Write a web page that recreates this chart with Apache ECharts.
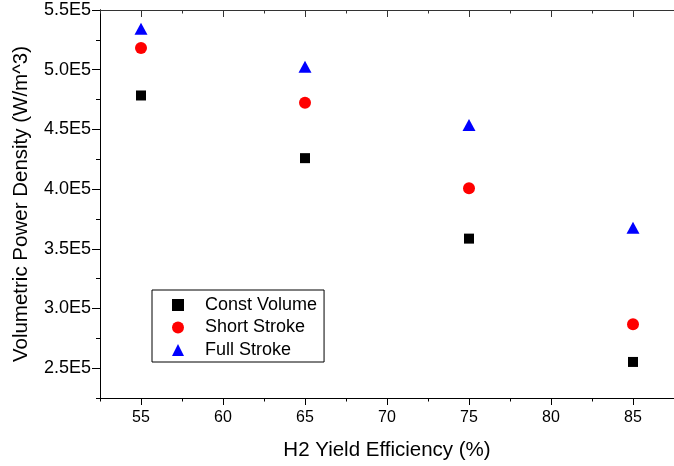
<!DOCTYPE html>
<html>
<head>
<meta charset="utf-8">
<script src="https://cdn.jsdelivr.net/npm/echarts@6/dist/echarts.min.js"></script>
<style>
html,body{margin:0;padding:0;background:#fff;}
#chart{width:674px;height:466px;}
</style>
</head>
<body>
<div id="chart"></div>
<script>
// ---- data ----
var xValues = [55, 65, 75, 85];
var constVolume = [478400, 425900, 358500, 255200];
var shortStroke = [518100, 472300, 400700, 286700];
var fullStroke = [534200, 502500, 453700, 367700];
var seriesNames = ['Const Volume', 'Short Stroke', 'Full Stroke'];

// ---- ticks ----
var xMajorTicks = [55, 60, 65, 70, 75, 80, 85];
var xMinorTicks = [52.5, 57.5, 62.5, 67.5, 72.5, 77.5, 82.5, 87.5];
var yMajorTicks = [250000, 300000, 350000, 400000, 450000, 500000, 550000];
var yTickLabels = ['2.5E5', '3.0E5', '3.5E5', '4.0E5', '4.5E5', '5.0E5', '5.5E5'];
var yMinorTicks = [225000, 275000, 325000, 375000, 425000, 475000, 525000];

var FONT = 'Liberation Sans, Arial, sans-serif';
var X_MIN = 52.5, X_MAX = 87.5, Y_MIN = 225000, Y_MAX = 550000;

function pairs(xs, ys) { return xs.map(function (x, i) { return [x, ys[i]]; }); }

function xAx(pos, ticks, len, inside, showLine, lineColor, labels) {
  return {
    type: 'value', position: pos, min: X_MIN, max: X_MAX,
    axisLine: { show: showLine, onZero: false, lineStyle: { color: lineColor, width: 1 } },
    axisTick: { show: true, inside: inside, length: len, customValues: ticks, lineStyle: { color: lineColor, width: 1 } },
    axisLabel: labels ? { show: true, customValues: ticks, margin: 12, color: '#000', fontSize: 16, fontFamily: FONT } : { show: false },
    splitLine: { show: false }
  };
}
function yAx(ticks, len, labels) {
  return {
    type: 'value', position: 'left', min: Y_MIN, max: Y_MAX,
    axisLine: { show: true, onZero: false, lineStyle: { color: '#000', width: 1 } },
    axisTick: { show: true, inside: false, length: len, customValues: ticks, lineStyle: { color: '#000', width: 1 } },
    axisLabel: labels ? {
      show: true, customValues: ticks, margin: 9, color: '#000', fontSize: 18, fontFamily: FONT,
      formatter: function (v) { var i = yMajorTicks.indexOf(v); return i >= 0 ? yTickLabels[i] : ''; }
    } : { show: false },
    splitLine: { show: false }
  };
}

var xAxes = [
  xAx('bottom', xMajorTicks, 7, false, true, '#000', true),
  xAx('bottom', xMinorTicks, 3.5, false, false, '#000', false),
  xAx('top', xMajorTicks, 7, true, true, '#333', false),
  xAx('top', xMinorTicks, 3.5, true, false, '#333', false)
];
xAxes[0].name = 'H2 Yield Efficiency (%)';
xAxes[0].nameLocation = 'middle';
xAxes[0].nameGap = 42;
xAxes[0].nameTextStyle = { fontSize: 20.5, fontFamily: FONT, color: '#000' };

var yAxes = [yAx(yMajorTicks, 8, true), yAx(yMinorTicks, 4, false)];
yAxes[0].name = 'Volumetric Power Density (W/m^3)';
yAxes[0].nameLocation = 'middle';
yAxes[0].nameGap = 68;
yAxes[0].nameTextStyle = { fontSize: 20.5, fontFamily: FONT, color: '#000' };

var chart = echarts.init(document.getElementById('chart'), null, { renderer: 'canvas' });
chart.setOption({
  animation: false,
  backgroundColor: '#fff',
  grid: { left: 100, right: -10, top: 10, bottom: 66, containLabel: false },
  xAxis: xAxes,
  yAxis: yAxes,
  legend: {
    show: true, orient: 'vertical', left: 152, top: 290,
    data: seriesNames,
    itemWidth: 12, itemHeight: 12, itemGap: 4.5,
    padding: [6, 7, 3, 20],
    borderColor: '#000', borderWidth: 1, borderRadius: 0,
    textStyle: { fontSize: 18, fontFamily: FONT, color: '#000', padding: [0, 0, 0, 16] }
  },
  series: [
    { name: seriesNames[0], type: 'scatter', symbol: 'rect', symbolSize: 10, symbolKeepAspect: true,
      itemStyle: { color: '#000', opacity: 1 }, data: pairs(xValues, constVolume) },
    { name: seriesNames[1], type: 'scatter', symbol: 'circle', symbolSize: 12, symbolKeepAspect: true,
      itemStyle: { color: '#ff0000', opacity: 1 }, data: pairs(xValues, shortStroke) },
    { name: seriesNames[2], type: 'scatter', symbol: 'triangle', symbolSize: [13, 12], symbolKeepAspect: true,
      itemStyle: { color: '#0000ff', opacity: 1 }, data: pairs(xValues, fullStroke) }
  ]
});
</script>
</body>
</html>
